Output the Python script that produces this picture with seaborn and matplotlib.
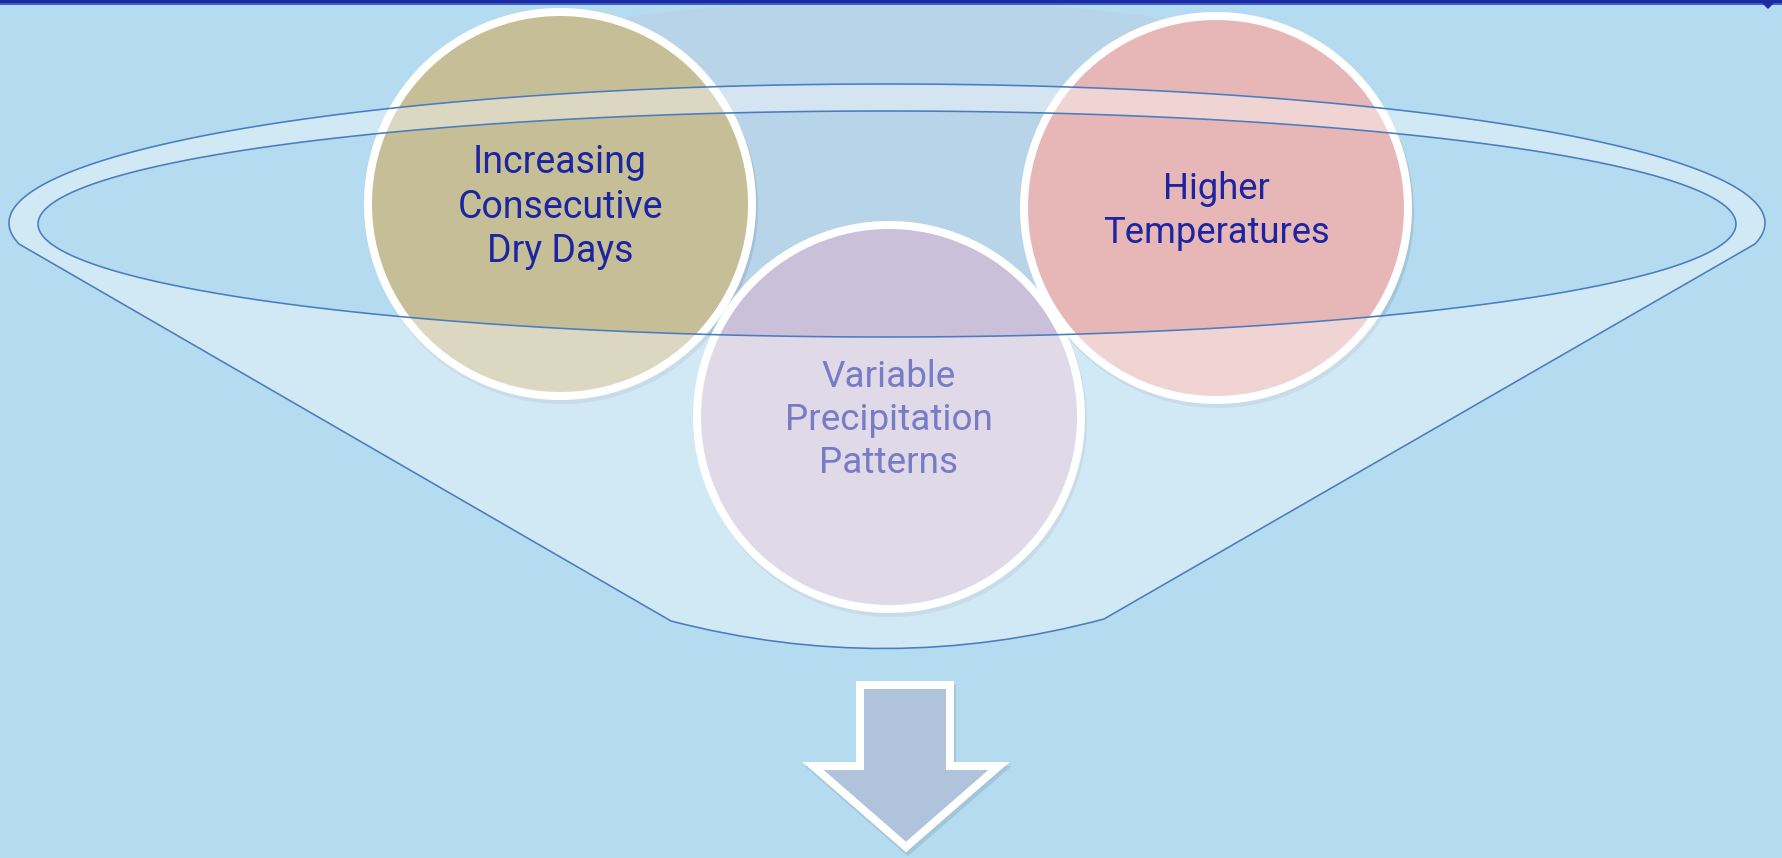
import matplotlib
matplotlib.use("Agg")
import matplotlib.pyplot as plt
import numpy as np
import seaborn as sns
from matplotlib.path import Path
from matplotlib.patches import PathPatch, Circle, Polygon, Rectangle

# Diagram content
labels = [
    "Increasing\nConsecutive\nDry Days",
    "Variable\nPrecipitation\nPatterns",
    "Higher\nTemperatures",
]
fill_colors = ["#C5BE97", "#CBC0DA", "#E7B6B6"]
font_sizes = [27, 26.6, 26.2]

# layout (pixel space of a 1782x858 canvas)
W, H = 1782, 858
centers = [(560, 204), (889, 417), (1216, 208)]
radius = 196
BG = "#B4DBEF"
TEXT = "#1B25A0"
LINE = "#4A7CC0"
PT = 0.72  # points per pixel at dpi 100

sns.set_style("white")
plt.rcParams["font.family"] = ["Roboto", "DejaVu Sans"]

fig = plt.figure(figsize=(W / 100, H / 100), dpi=100)
fig.patch.set_facecolor(BG)
ax = fig.add_axes([0, 0, 1, 1])
ax.set_xlim(0, W)
ax.set_ylim(H, 0)
ax.axis("off")
ax.set_facecolor(BG)

# faint backdrop shape between the circles
xs = np.linspace(627, 1153, 60)
top = [(x, 17 * ((x - 890) / 263) ** 2) for x in xs]
side = [(1175, 30), (1100, 200), (1053, 312), (890, 520), (724, 310), (660, 200), (600, 30)]
ax.add_patch(Polygon(top + side, closed=True, facecolor="#B8D4E8", edgecolor="none", zorder=1))

# circles with white rim and soft shadow
for (cx, cy), col, lab, fs in zip(centers, fill_colors, labels, font_sizes):
    ax.add_patch(Circle((cx + 2, cy + 4), radius, facecolor="#5a6a80", alpha=0.18,
                        edgecolor="none", zorder=2))
    ax.add_patch(Circle((cx, cy), radius - 4, facecolor=col, edgecolor="white",
                        linewidth=8 * PT, zorder=3))
    ax.text(cx, cy + 3, lab, ha="center", va="center", multialignment="center",
            fontsize=fs, color=TEXT, linespacing=1.26, zorder=4)

# funnel: outer rim ellipse + body, with inner ellipse as a hole
ocx, ocy, oa, ob = 887, 223, 878, 139
icx, icy, ia, ib = 887, 224, 849, 113
t0 = np.degrees(np.arcsin(-(244 - ocy) / ob))  # about -8.7 deg
th = np.radians(np.linspace(180 - t0, t0, 240))
outer = [(ocx + oa * np.cos(t), ocy - ob * np.sin(t)) for t in th]
outer_verts = outer + [(1104, 619), (887, 677), (671, 621), outer[0], outer[0]]
outer_codes = ([Path.MOVETO] + [Path.LINETO] * (len(outer) - 1)
               + [Path.LINETO, Path.CURVE3, Path.CURVE3, Path.LINETO, Path.CLOSEPOLY])
ti = np.radians(np.linspace(0, 360, 241))
inner = [(icx + ia * np.cos(t), icy - ib * np.sin(t)) for t in ti]
inner_codes = [Path.MOVETO] + [Path.LINETO] * (len(inner) - 2) + [Path.CLOSEPOLY]

funnel = Path(outer_verts + inner, outer_codes + inner_codes)
ax.add_patch(PathPatch(funnel, facecolor="white", alpha=0.4, edgecolor="none", zorder=5))
ax.add_patch(PathPatch(Path(outer_verts, outer_codes), facecolor="none", edgecolor=LINE,
                       linewidth=1.6 * PT, zorder=6))
ax.add_patch(PathPatch(Path(inner, inner_codes), facecolor="none", edgecolor=LINE,
                       linewidth=1.6 * PT, zorder=6))

# down arrow
arrow = [(860, 685), (950, 685), (950, 766), (999, 766), (906, 847), (813, 766), (860, 766)]
ax.add_patch(Polygon([(x + 2, y + 4) for x, y in arrow], closed=True, facecolor="#5a6a80",
                     alpha=0.18, edgecolor="#5a6a80", linewidth=8 * PT, zorder=7))
ax.add_patch(Polygon(arrow, closed=True, facecolor="#AFC3DC", edgecolor="white",
                     linewidth=8 * PT, joinstyle="miter", zorder=8))

# top border line with small marker at right end
ax.add_patch(Rectangle((0, 0), W, 3, facecolor="#1B2AA3", edgecolor="none", zorder=9))
ax.add_patch(Rectangle((0, 3), W, 1.5, facecolor="#3F5FC6", edgecolor="none", zorder=9))
ax.add_patch(Polygon([(1759, 0), (1777, 0), (1768, 9)], closed=True, facecolor="#1B2AA3",
                     edgecolor="none", zorder=9))

fig.savefig("out.png", dpi=100, facecolor=BG)
